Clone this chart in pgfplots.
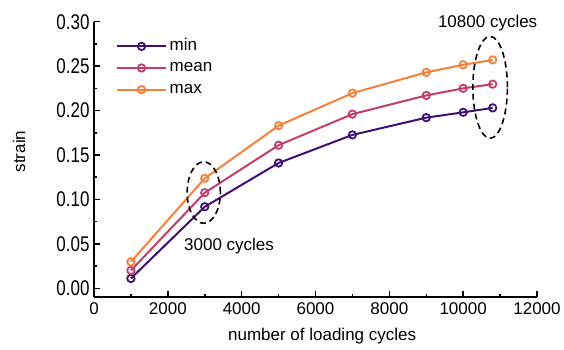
\documentclass[border=0pt]{standalone}
\usepackage{pgfplots}
\pgfplotsset{compat=1.18}
\usepackage{fontspec}
\setmainfont{Liberation Sans}
\definecolor{cmin}{HTML}{3F1170}
\definecolor{cmean}{HTML}{C43B6D}
\definecolor{cmax}{HTML}{F4813A}
\newcommand{\ff}{\fontsize{17}{20}\selectfont}
\begin{document}
\begin{tikzpicture}
\begin{axis}[
  scale only axis,
  width=443pt, height=275pt,
  xmin=0, xmax=12000, ymin=-0.0095, ymax=0.30,
  axis lines*=left,
  axis line style={line width=1.8pt},
  xtick={0,2000,...,12000},
  minor xtick={1000,3000,...,11000},
  ytick={0,0.05,...,0.30},
  minor ytick={0.025,0.075,...,0.275},
  tick align=inside,
  major tick length=6pt, minor tick length=3pt,
  tick style={line width=1.5pt, black},
  scaled x ticks=false,
  x tick label style={/pgf/number format/1000 sep={}, yshift=-2.5pt},
  y tick label style={/pgf/number format/.cd, fixed, fixed zerofill, precision=2, /tikz/.cd, yscale=1.25, xshift=-1pt},
  /pgf/number format/assume math mode=true,
  ticklabel style={font=\ff},
  xlabel={number of loading cycles},
  ylabel={strain},
  every axis x label/.style={at={(rel axis cs:0.515,0)}, yshift=-43.3pt, anchor=base, font=\ff},
  every axis y label/.style={at={(rel axis cs:0,0.528)}, xshift=-75pt, rotate=90, anchor=center, font=\ff},
  clip=false,
  every axis plot/.append style={line width=2pt, mark=o, mark size=3.7pt, mark options={fill=white, line width=1.8pt}},
  legend style={draw=none, fill=none, at={(0.05,0.94)}, anchor=north west, font=\ff, row sep=5.6pt, inner sep=0pt,
    nodes={text height=12pt, text depth=4pt, inner sep=0pt, inner xsep=3pt}},
  legend cell align=left,
  legend image code/.code={\draw (0cm,0cm) -- (1.7cm,0cm); \draw plot coordinates {(0.85cm,0cm)};},
]
\addplot[color=cmin] coordinates {(1000,0.011) (3000,0.0917) (5000,0.141) (7000,0.1726) (9000,0.192) (10000,0.198) (10800,0.203)};
\addlegendentry{min}
\addplot[color=cmean] coordinates {(1000,0.020) (3000,0.1075) (5000,0.161) (7000,0.196) (9000,0.217) (10000,0.225) (10800,0.2297)};
\addlegendentry{mean}
\addplot[color=cmax] coordinates {(1000,0.0297) (3000,0.1237) (5000,0.183) (7000,0.2196) (9000,0.243) (10000,0.2515) (10800,0.257)};
\addlegendentry{max}
\draw[black, line width=1.6pt, dash pattern=on 6pt off 4pt] (axis cs:2973,0.1077) ellipse [x radius=450, y radius=0.0346];
\draw[black, line width=1.6pt, dash pattern=on 6pt off 4pt] (axis cs:10730,0.2261) ellipse [x radius=468, y radius=0.0573];
\node[font=\ff, anchor=base] at (axis cs:10663,0.2935) {10800 cycles};
\node[font=\ff, anchor=base] at (axis cs:3659,0.042) {3000 cycles};
\end{axis}
\pgfresetboundingbox
\path ([shift={(-94pt,-52.3pt)}]current axis.south west) rectangle ([shift={(27pt,21.7pt)}]current axis.north east);
\end{tikzpicture}
\end{document}
